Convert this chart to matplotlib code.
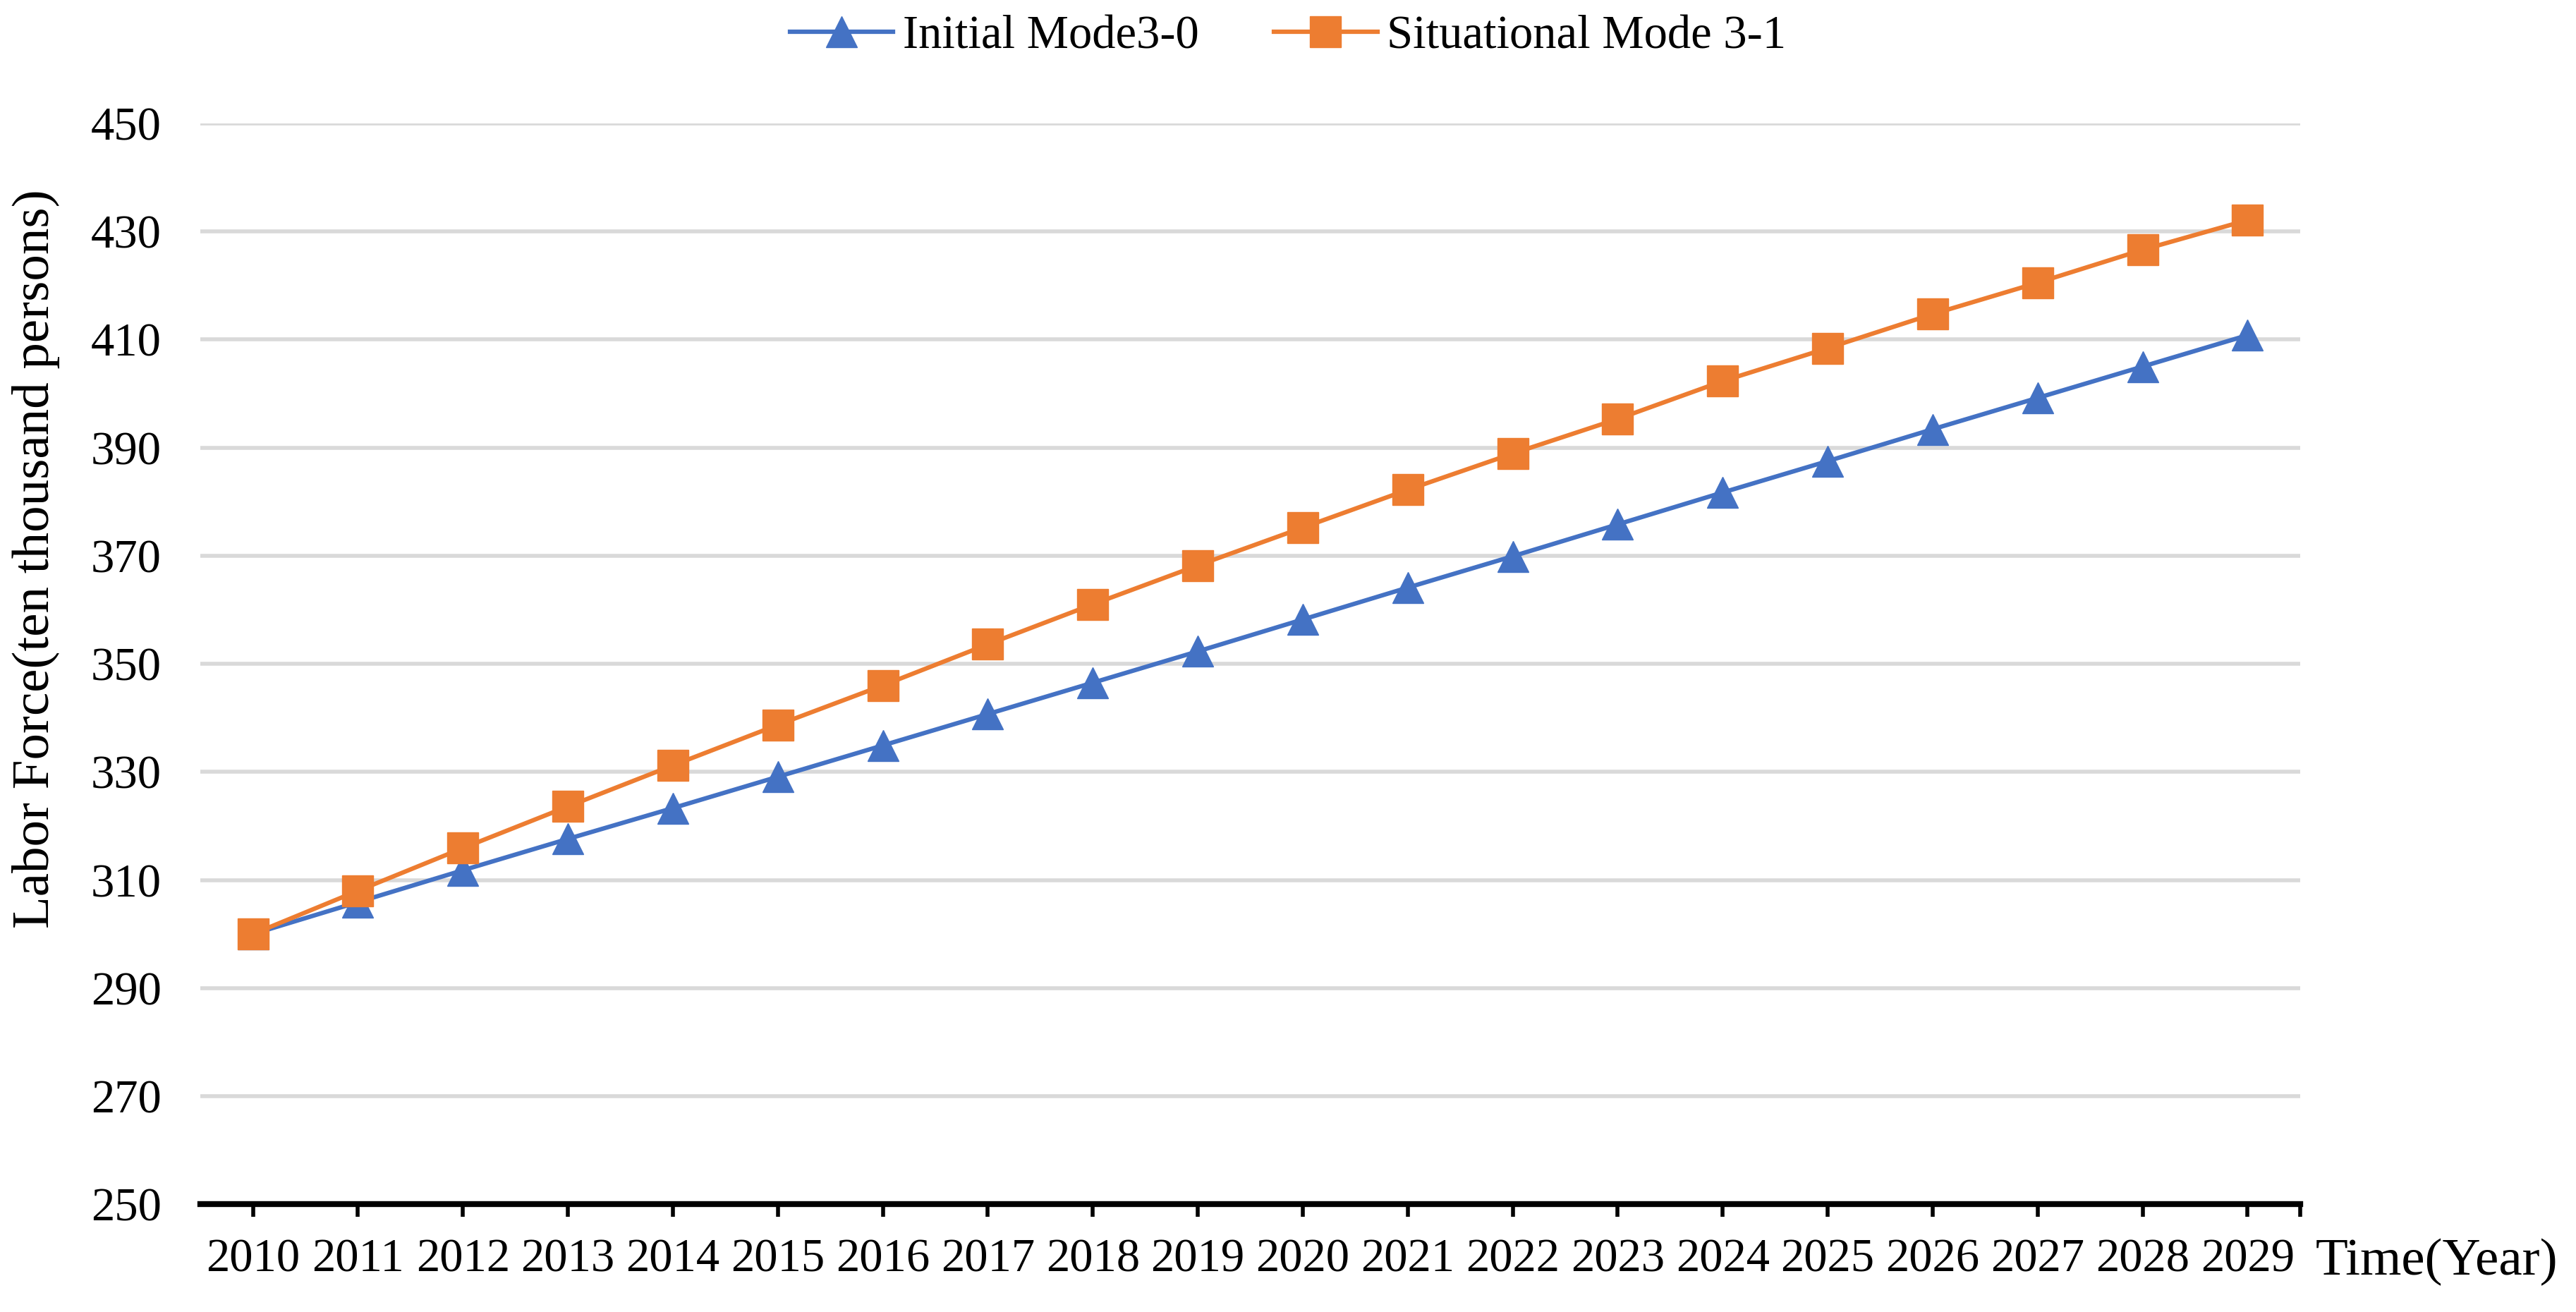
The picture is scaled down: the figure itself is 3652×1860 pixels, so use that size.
import matplotlib
matplotlib.use("Agg")
import matplotlib.pyplot as plt
import numpy as np

plt.rcParams['font.family'] = ['Liberation Serif', 'DejaVu Serif']

years = [str(y) for y in range(2010, 2030)]
initial_mode = [300.0, 305.9, 311.8, 317.6, 323.3, 329.1, 334.9, 340.7, 346.5, 352.3,
                358.2, 364.1, 369.9, 375.8, 381.7, 387.5, 393.4, 399.2, 405.0, 410.8]
situational_mode = [300.0, 308.0, 315.9, 323.6, 331.2, 338.7, 346.0, 353.6, 361.0, 368.2,
                    375.2, 382.2, 388.9, 395.3, 402.3, 408.4, 414.7, 420.5, 426.6, 432.1]
y_ticks = [250, 270, 290, 310, 330, 350, 370, 390, 410, 430, 450]

blue = '#4472C4'
orange = '#ED7D31'

fig = plt.figure(figsize=(36.52, 18.6), dpi=100)
ax = fig.add_axes([0.0778, 0.0821, 0.8151, 0.8239])

x = np.arange(len(years))
ax.plot(x, initial_mode, color=blue, lw=4.5, marker='^', ms=32, mec=blue, mfc=blue,
        label='Initial Mode3-0', zorder=3)
ax.plot(x, situational_mode, color=orange, lw=4.5, marker='s', ms=31, mec=orange, mfc=orange,
        label='Situational Mode 3-1', zorder=4)

ax.set_xlim(-0.5, len(years) - 0.5)
ax.set_ylim(250, 450)
ax.set_yticks(y_ticks)
ax.set_yticklabels([str(v) for v in y_ticks])
ax.set_xticks(list(x) + [len(years) - 0.5])
ax.set_xticklabels(years + [''])

ax.yaxis.grid(True, color='#d9d9d9', lw=4)
ax.set_axisbelow(True)
for s in ['top', 'right', 'left']:
    ax.spines[s].set_visible(False)
ax.spines['bottom'].set_linewidth(6)
ax.spines['bottom'].set_color('black')
ax.spines['bottom'].set_zorder(5)

ax.tick_params(axis='x', length=13, width=4, pad=22, labelsize=48)
ax.tick_params(axis='y', length=0, pad=40, labelsize=48)

fig.text(0.014, 0.574, 'Labor Force(ten thousand persons)', rotation=90,
         ha='center', va='center', fontsize=54)
fig.text(0.899, 0.038, 'Time(Year)', ha='left', va='center', fontsize=54)

fig.legend(loc='center', bbox_to_anchor=(0.5, 0.972), ncol=2, frameon=False,
           fontsize=48, handlelength=2.2, handletextpad=0.2, columnspacing=1.6,
           markerscale=1.0)

fig.savefig('out.png', dpi=100)
